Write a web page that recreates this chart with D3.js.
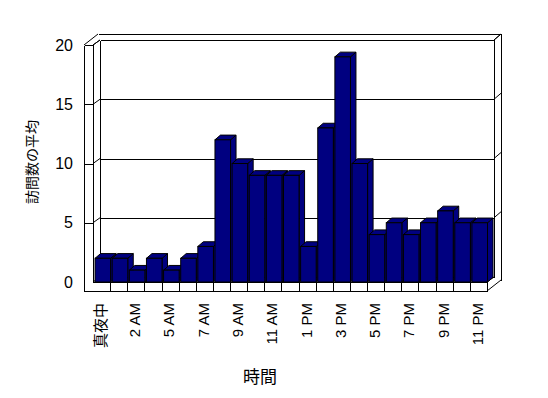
<!DOCTYPE html>
<html>
<head>
<meta charset="utf-8">
<style>
  body { margin: 0; background: #fff; }
  .lbl text { font-family: "Liberation Sans", "Noto Sans CJK JP", sans-serif; fill: #000; }
  .frame line { stroke: #000; stroke-width: 1; }
</style>
<title>訪問数の平均</title>
</head>
<body>
<script src="https://cdnjs.cloudflare.com/ajax/libs/d3/7.8.5/d3.min.js"></script>
<script>
// average visits per hour (3 AM has no data)
var hours = ["真夜中", "1 AM", "2 AM", "4 AM", "5 AM", "6 AM", "7 AM", "8 AM",
             "9 AM", "10 AM", "11 AM", "正午", "1 PM", "2 PM", "3 PM", "4 PM",
             "5 PM", "6 PM", "7 PM", "8 PM", "9 PM", "10 PM", "11 PM"];
var visits = [2, 2, 1, 2, 1, 2, 3, 12, 10, 9, 9, 9, 3, 13, 19, 10, 4, 5, 4, 5, 6, 5, 5];
var yTicks = [0, 5, 10, 15, 20];
var shownHours = hours.filter(function(d, i) { return i % 2 == 0; });

var svg = d3.select("body")
            .append("svg")
            .attr("width", 548)
            .attr("height", 398);

var x = d3.scaleBand().domain(hours).range([93, 487]);
var yFront = d3.scaleLinear().domain([0, 20]).range([282, 45]);
var yBack = d3.scaleLinear().domain([0, 20]).range([277, 40]);

var frame = svg.append("g").attr("class", "frame");
function seg(x1, y1, x2, y2) {
    var crisp = (x1 == x2 || y1 == y2);
    frame.append("line")
         .attr("x1", x1 + (crisp ? 0.5 : 0)).attr("y1", y1 + (crisp ? 0.5 : 0))
         .attr("x2", x2 + (crisp ? 0.5 : 0)).attr("y2", y2 + (crisp ? 0.5 : 0))
         .attr("shape-rendering", crisp ? "crispEdges" : "auto");
}

// walls
seg(98, 34, 501, 34);
seg(501, 34, 501, 280);
seg(494, 40, 501, 34);
seg(494, 40, 494, 277);
seg(84, 45, 84, 291);
seg(93, 45, 93, 282);
seg(84, 45, 93, 45);
seg(93, 45, 100, 40);
seg(84, 45, 98, 34);
seg(100, 40, 100, 277);

// gridlines
yTicks.forEach(function(v) {
    seg(100, yBack(v), 494, yBack(v));
    seg(100, yBack(v), 93, yFront(v));
    if (v > 0) {
        seg(84, yFront(v), 93, yFront(v));
        seg(494, yBack(v), 501, yBack(v) - 6);
    }
});

// floor slab
seg(93, 282, 487, 282);
seg(84, 291, 487, 291);
seg(487, 282, 487, 291);
seg(487, 282, 494, 277);
seg(487, 291, 501, 280);
hours.forEach(function(h, i) {
    if (i > 0) seg(Math.round(x(h)), 282, Math.round(x(h)), 291);
});

// bars
var bw = x.bandwidth(), bdx = 5.5, bdy = -4.7;
var bars = svg.selectAll("g.bar")
              .data(hours.map(function(h, i) { return {h: h, v: visits[i]}; }))
              .enter()
              .append("g")
              .attr("class", "bar")
              .style("fill", "#000080")
              .style("stroke", "#000");
bars.append("polygon")
    .attr("points", function(d) {
        var x1 = x(d.h) + bw + 0.5, yt = yFront(d.v), yb = yFront(0);
        return [[x1, yt], [x1 + bdx, yt + bdy], [x1 + bdx, yb + bdy], [x1, yb]].join(" ");
    });
bars.append("polygon")
    .attr("points", function(d) {
        var x0 = x(d.h) + 0.12 * bw, x1 = x(d.h) + bw + 0.5, yt = yFront(d.v);
        return [[x0, yt], [x0 + bdx, yt + bdy], [x1 + bdx, yt + bdy], [x1, yt]].join(" ");
    });
bars.append("rect")
    .attr("x", function(d) { return x(d.h) + 0.12 * bw; })
    .attr("y", function(d) { return yFront(d.v); })
    .attr("width", 0.88 * bw + 0.5)
    .attr("height", function(d) { return yFront(0) - yFront(d.v); });

// y axis labels
var yAxis = svg.append("g")
   .attr("class", "lbl")
   .attr("transform", "translate(84,0)")
   .call(d3.axisLeft(yFront).tickValues(yTicks).tickSize(0).tickPadding(11));
yAxis.select(".domain").remove();
yAxis.selectAll("text").style("font-size", "16px");

// x axis labels
var xAxis = svg.append("g")
   .attr("class", "lbl")
   .attr("transform", "translate(-1,303)")
   .call(d3.axisBottom(x).tickValues(shownHours).tickSize(0));
xAxis.select(".domain").remove();
xAxis.selectAll("text")
     .attr("x", 0)
     .attr("y", 0)
     .attr("dy", "0.36em")
     .attr("transform", "rotate(-90)")
     .style("text-anchor", "end")
     .style("font-size", "15px");

// titles
svg.append("text")
   .attr("x", 260)
   .attr("y", 383)
   .style("text-anchor", "middle")
   .style("font-family", "'Noto Sans CJK JP', sans-serif")
   .style("font-size", "17px")
   .text("時間");
svg.append("text")
   .attr("transform", "translate(32,162) rotate(-90)")
   .attr("dy", "0.38em")
   .style("text-anchor", "middle")
   .style("font-family", "'Noto Sans CJK JP', sans-serif")
   .style("font-size", "14px")
   .text("訪問数の平均");
</script>
</body>
</html>
